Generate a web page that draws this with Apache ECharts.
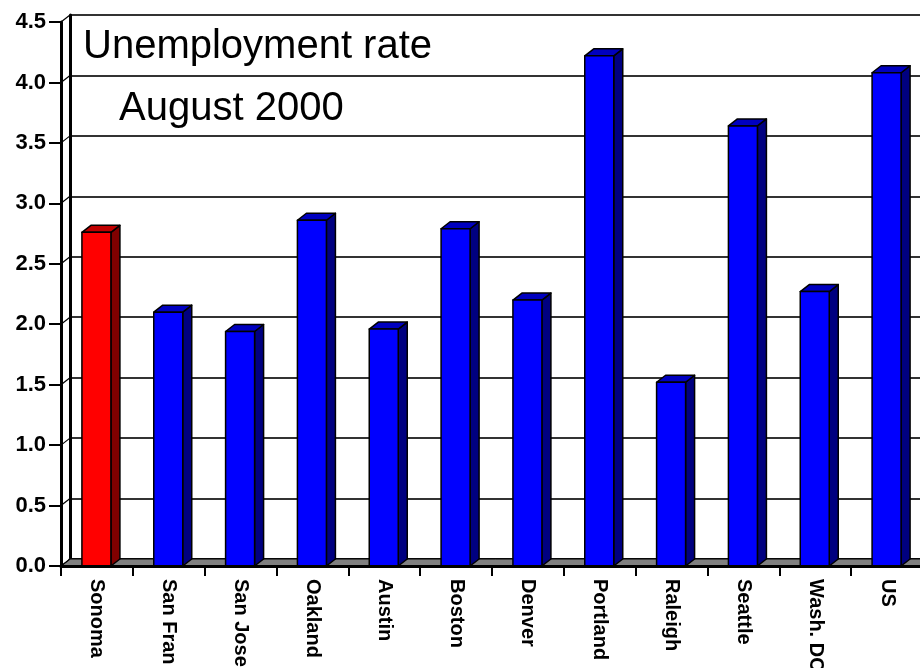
<!DOCTYPE html>
<html>
<head>
<meta charset="utf-8">
<script src="https://cdn.jsdelivr.net/npm/echarts@6/dist/echarts.min.js"></script>
<style>
html,body{margin:0;padding:0;background:#fff;}
#chart{width:920px;height:668px;}
</style>
</head>
<body>
<div id="chart"></div>
<script>
const categories = ["Sonoma","San Fran","San Jose","Oakland","Austin","Boston","Denver","Portland","Raleigh","Seattle","Wash. DC","US"];
const rates = [2.76, 2.10, 1.94, 2.86, 1.96, 2.79, 2.20, 4.22, 1.52, 3.64, 2.27, 4.08];
const highlight = ["Sonoma"];
const yTicks = [0, 0.5, 1.0, 1.5, 2.0, 2.5, 3.0, 3.5, 4.0, 4.5];
const titleLines = ["Unemployment rate", "August 2000"];

const DX = 9, DY = -7;
const FONT = "'Liberation Sans', Arial, sans-serif";

const chart = echarts.init(document.getElementById('chart'));

function barItem(params, api) {
  const idx = api.value(0);
  const val = api.value(1);
  const top = api.coord([idx, val]);
  const base = api.coord([idx, 0]);
  const cx = top[0];
  const l = cx - 15, r = cx + 14;
  const t = top[1], b = base[1];
  const isHi = highlight.indexOf(categories[idx]) >= 0;
  const front = isHi ? '#ff0000' : '#0000ff';
  const side = isHi ? '#800000' : '#000080';
  const cap = isHi ? '#c00000' : '#0000c0';
  const stroke = {stroke: '#000', lineWidth: 1.5, lineJoin: 'round'};
  return {
    type: 'group',
    children: [
      {type: 'polygon', shape: {points: [[r, t], [r + DX, t + DY], [r + DX, b + DY], [r, b]]},
        style: Object.assign({fill: side}, stroke)},
      {type: 'polygon', shape: {points: [[l, t], [l + DX, t + DY], [r + DX, t + DY], [r, t]]},
        style: Object.assign({fill: cap}, stroke)},
      {type: 'rect', shape: {x: l, y: t, width: r - l, height: b - t},
        style: Object.assign({fill: front}, stroke)}
    ]
  };
}

function frameItem(params, api) {
  const cs = params.coordSys;
  const x0 = cs.x, x1 = cs.x + cs.width;
  const y0 = api.coord([0, 0])[1];
  const children = [];
  children.push({type: 'polygon',
    shape: {points: [[x0, y0], [x0 + DX, y0 + DY], [x1 + DX, y0 + DY], [x1, y0]]},
    style: {fill: '#808080', stroke: '#000', lineWidth: 1}});
  yTicks.forEach(function (v) {
    const y = api.coord([0, v])[1];
    children.push({type: 'line', shape: {x1: x0, y1: y, x2: x0 + DX, y2: y + DY},
      style: {stroke: '#000', lineWidth: 1.2}});
  });
  return {type: 'group', children: children};
}

const option = {
  animation: false,
  backgroundColor: '#fff',
  grid: [
    {left: 61, top: 22, width: 862, height: 544, outerBoundsMode: 'none', containLabel: false},
    {left: 61 + DX, top: 22 + DY, width: 862, height: 544, outerBoundsMode: 'none', containLabel: false}
  ],
  xAxis: [
    {type: 'category', gridIndex: 0, data: categories, z: 10,
      axisLine: {show: true, lineStyle: {color: '#000', width: 3}},
      axisTick: {show: true, length: 10, lineStyle: {color: '#000', width: 2}},
      axisLabel: {rotate: -90, margin: 13, color: '#000', fontSize: 20, fontWeight: 'bold', fontFamily: FONT},
      splitLine: {show: false}},
    {type: 'category', gridIndex: 1, data: categories, position: 'top',
      axisLine: {show: true, lineStyle: {color: '#111', width: 3}},
      axisTick: {show: false}, axisLabel: {show: false}, splitLine: {show: false}}
  ],
  yAxis: [
    {type: 'value', gridIndex: 0, min: 0, max: 4.5, interval: 0.5, z: 10,
      axisLine: {show: true, lineStyle: {color: '#000', width: 3}},
      axisTick: {show: true, length: 12, lineStyle: {color: '#000', width: 2}},
      axisLabel: {margin: 15, color: '#000', fontSize: 22, fontWeight: 'bold', fontFamily: FONT,
        formatter: function (v) { return v.toFixed(1); }},
      splitLine: {show: false}},
    {type: 'value', gridIndex: 1, min: 0, max: 4.5, interval: 0.5,
      axisLine: {show: true, lineStyle: {color: '#000', width: 3}},
      axisTick: {show: false}, axisLabel: {show: false},
      splitLine: {show: true, lineStyle: {color: '#333', width: 2}}}
  ],
  graphic: [
    {type: 'text', left: 83, top: 27, z: 20,
      style: {text: titleLines[0], fill: '#000', font: '40px ' + FONT}},
    {type: 'text', left: 119, top: 89, z: 20,
      style: {text: titleLines[1], fill: '#000', font: '40px ' + FONT}}
  ],
  series: [
    {type: 'custom', name: 'frame', xAxisIndex: 0, yAxisIndex: 0, z: 1,
      renderItem: frameItem, data: [[0, 0]], silent: true},
    {type: 'custom', name: 'rate', xAxisIndex: 0, yAxisIndex: 0, z: 2,
      renderItem: barItem,
      data: rates.map(function (v, i) { return [i, v]; })}
  ]
};
chart.setOption(option);
</script>
</body>
</html>
